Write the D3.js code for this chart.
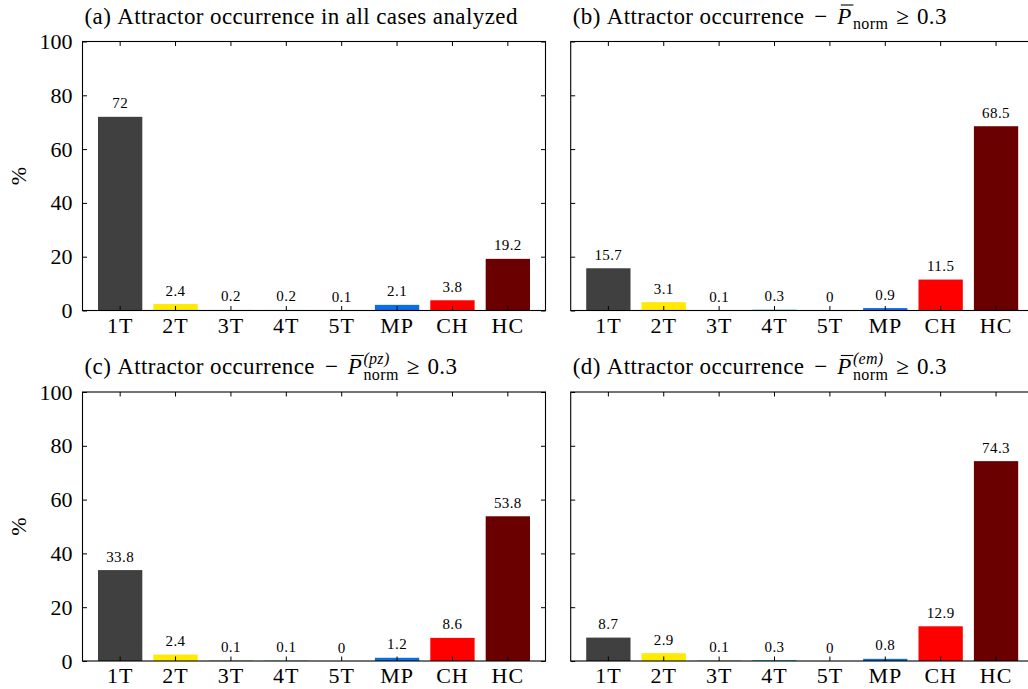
<!DOCTYPE html>
<html>
<head>
<meta charset="utf-8">
<script src="https://cdn.jsdelivr.net/npm/d3@7"></script>
<style>
  html, body { margin: 0; padding: 0; background: #ffffff; }
  svg { display: block; font-family: "Liberation Serif", "DejaVu Serif", serif; }
</style>
</head>
<body>
<svg id="chart" width="1028" height="689"></svg>
<script>
// ---------------- data ----------------
const categories = ["1T", "2T", "3T", "4T", "5T", "MP", "CH", "HC"];
const barColors = ["#404040", "#ffea00", "#00a000", "#00bfbf", "#a000a0", "#0a6ee6", "#ff0000", "#6b0000"];
const valuesA = [72, 2.4, 0.2, 0.2, 0.1, 2.1, 3.8, 19.2];
const valuesB = [15.7, 3.1, 0.1, 0.3, 0, 0.9, 11.5, 68.5];
const valuesC = [33.8, 2.4, 0.1, 0.1, 0, 1.2, 8.6, 53.8];
const valuesD = [8.7, 2.9, 0.1, 0.3, 0, 0.8, 12.9, 74.3];
const yTicks = [0, 20, 40, 60, 80, 100];
const panelLetters = ["(a)", "(b)", "(c)", "(d)"];
const titleMain = ["Attractor occurrence in all cases analyzed", "Attractor occurrence", "Attractor occurrence", "Attractor occurrence"];
const titleSup = [null, "", "(pz)", "(em)"];
const yLabel = "%";

const panelValues = [valuesA, valuesB, valuesC, valuesD];

// ---------------- layout ----------------
const W = 463, H = 269;
const colX = [82.5, 570.7];
const rowY = [41.5, 392];

const svg = d3.select("#chart");
svg.append("rect").attr("width", 1028).attr("height", 689).attr("fill", "#fff");

const x = d3.scaleBand().domain(categories).range([0, W]).paddingInner(0.2).paddingOuter(0.28);
const y = d3.scaleLinear().domain([0, 100]).range([H, 0]);
const color = d3.scaleOrdinal().domain(categories).range(barColors);

function drawTitle(g, i, x0, y0) {
  let cx = x0;
  function piece(str, opts = {}) {
    const el = g.append("text")
      .attr("x", cx).attr("y", y0 + (opts.dy || 0))
      .attr("font-size", opts.size || 23)
      .attr("letter-spacing", opts.ls === undefined ? 0.4 : opts.ls)
      .attr("font-style", opts.italic ? "italic" : "normal")
      .attr("fill", "#000")
      .text(str);
    return el.node().getComputedTextLength();
  }
  cx += piece(panelLetters[i]) + 6;
  cx += piece(titleMain[i]);
  if (titleSup[i] === null) return;
  cx += 10;
  cx += piece("\u2212", { ls: 0 });
  cx += 10;
  const px = cx;
  const pw = piece("P", { italic: true, ls: 0 });
  g.append("line").attr("x1", px + 3.5).attr("x2", px + pw + 2)
    .attr("y1", y0 - 18.5).attr("y2", y0 - 18.5).attr("stroke", "#000").attr("stroke-width", 1.1);
  cx += pw + 1.5;
  let ws = 0;
  if (titleSup[i]) ws = piece(titleSup[i], { italic: true, size: 16, dy: -10, ls: 0.3 });
  const wn = piece("norm", { size: 16, dy: 5.5, ls: 0.4 });
  cx += Math.max(ws, wn) + 8;
  cx += piece("\u2265", { ls: 0 });
  cx += 8;
  piece("0.3");
}

panelValues.forEach((vals, i) => {
  const col = i % 2, row = Math.floor(i / 2);
  const g = svg.append("g").attr("transform", `translate(${colX[col]},${rowY[row]})`);

  // bars
  g.selectAll("rect.bar").data(categories).join("rect")
    .attr("class", "bar")
    .attr("x", d => x(d))
    .attr("width", x.bandwidth())
    .attr("y", (d, k) => y(vals[k]))
    .attr("height", (d, k) => y(0) - y(vals[k]))
    .attr("fill", d => color(d));

  // value labels
  g.selectAll("text.val").data(categories).join("text")
    .attr("class", "val")
    .attr("x", d => x(d) + x.bandwidth() / 2)
    .attr("y", (d, k) => y(vals[k]) - 8.5)
    .attr("text-anchor", "middle")
    .attr("font-size", 15)
    .attr("letter-spacing", 0.4)
    .attr("fill", "#000")
    .text((d, k) => String(vals[k]));

  // axes (inward ticks)
  const ax = [
    g.append("g").attr("class", "xb").attr("transform", `translate(0,${H})`)
      .call(d3.axisBottom(x).tickSize(-4.5).tickPadding(6.5)),
    g.append("g").call(d3.axisTop(x).tickSize(-4.5).tickFormat("")),
    g.append("g").attr("class", "yl").call(d3.axisLeft(y).tickValues(yTicks).tickSize(-4.5).tickPadding(10)
      .tickFormat(col === 0 ? d3.format("d") : "")),
    g.append("g").attr("transform", `translate(${W},0)`)
      .call(d3.axisRight(y).tickValues(yTicks).tickSize(-4.5).tickFormat(""))
  ];
  ax.forEach(a => {
    a.select(".domain").remove();
    a.selectAll("line").attr("stroke", "#000").attr("stroke-width", 1);
    a.selectAll("text").attr("font-size", 22).attr("fill", "#000")
      .attr("font-family", "Liberation Serif, DejaVu Serif, serif");
  });
  ax[0].selectAll("text").attr("font-size", 22).attr("letter-spacing", 1);

  // frame
  g.append("rect").attr("x", 0).attr("y", 0).attr("width", W).attr("height", H)
    .attr("fill", "none").attr("stroke", "#000").attr("stroke-width", 1.1);

  // y label
  if (col === 0) {
    g.append("text")
      .attr("transform", `translate(${18 - colX[0]},${H / 2}) rotate(-90)`)
      .attr("text-anchor", "middle")
      .attr("dy", "0.35em")
      .attr("font-size", 22)
      .attr("fill", "#000")
      .text(yLabel);
  }

  drawTitle(g, i, 2, -18);
});
</script>
</body>
</html>
